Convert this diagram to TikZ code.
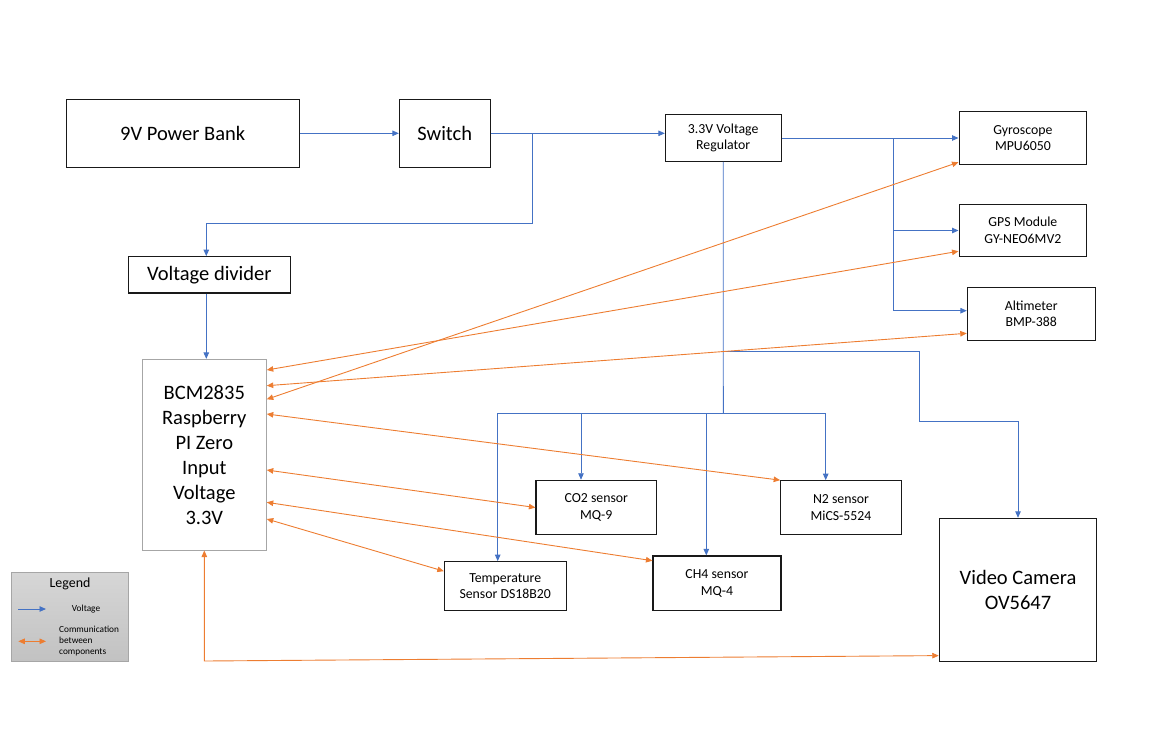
\documentclass[tikz,border=0pt]{standalone}
\usepackage{fontspec}
\setmainfont{Carlito}
\usepackage{tikz}
\usetikzlibrary{arrows.meta,positioning}

\definecolor{voltblue}{HTML}{4472C4}
\definecolor{commorange}{HTML}{ED7D31}

\begin{document}
\begin{tikzpicture}[x=1pt,y=-1pt,>={Triangle[length=6.5pt,width=5.5pt]}]
	\tikzstyle{block}=[draw=black!90,line width=1.1pt,fill=white,inner sep=0pt,align=center,font=\fontsize{13.8}{16.7}\selectfont]
	\tikzstyle{bigblock}=[block,font=\fontsize{20.5}{25}\selectfont]
	\tikzstyle{volt}=[->,draw=voltblue,line width=0.9pt]
	\tikzstyle{comm}=[<->,draw=commorange,line width=0.9pt]
	\useasboundingbox (0,0) rectangle (1153,748);
	
	% power chain
	\node[bigblock,minimum width=233.3pt,minimum height=68pt]  (bank) at (182.7,133.3) {9V Power Bank};
	\node[bigblock,minimum width=90.7pt,minimum height=68pt]   (switch) at (444.7,133.3) {Switch};
	\node[block,minimum width=115.7pt,minimum height=46.6pt]   (reg) at (723.2,138) {3.3V Voltage\\Regulator};
	\node[bigblock,minimum width=162pt,minimum height=36.3pt]  (divider) at (209.3,274.8) {Voltage divider};
	\node[bigblock,draw=black!35,line width=0.9pt,minimum width=124pt,minimum height=190.7pt] (bcm) at (204.3,454.7) {BCM2835\\Raspberry\\PI Zero\\Input\\Voltage\\3.3V};
	
	% right side modules
	\node[block,minimum width=127.7pt,minimum height=52.6pt] (gyro) at (1022.9,138) {Gyroscope\\MPU6050};
	\node[block,minimum width=127.7pt,minimum height=52.4pt] (gps) at (1022.9,230.5) {GPS Module\\GY-NEO6MV2};
	\node[block,minimum width=127.7pt,minimum height=52.7pt] (alti) at (1031.2,313.7) {Altimeter\\BMP-388};
	
	% sensors
	\node[block,minimum width=120.7pt,minimum height=54.4pt] (co2) at (596.3,507.5) {CO2 sensor\\MQ-9};
	\node[block,minimum width=120.6pt,minimum height=54pt]   (n2) at (841,507.7) {N2 sensor\\MiCS-5524};
	\node[block,minimum width=121.7pt,minimum height=49pt]   (temp) at (505.2,586.2) {Temperature\\Sensor DS18B20};
	\node[block,minimum width=128pt,minimum height=54.7pt]   (ch4) at (717,583.3) {CH4 sensor\\MQ-4};
	\node[bigblock,minimum width=157.4pt,minimum height=142.7pt] (cam) at (1018,589.7) {Video Camera\\OV5647};
	
	% voltage lines
	\coordinate (swsplit) at (532.3,133.3);
	\coordinate (regsplit) at (893.3,138.3);
	\coordinate (bus1) at (723.3,351.7);
	\coordinate (bus2) at (723.3,413.3);
	\coordinate (camdrop) at (919.3,421);
	\draw[volt] (bank) -- (switch);
	\draw[volt] (switch.east) -- (switch.east -| reg.west);
	\draw[volt] (swsplit) |- (206.3,223.3) -- ([xshift=-3pt]divider.north);
	\draw[volt] ([xshift=-3pt]divider.south) -- ([xshift=-3pt]divider.south |- bcm.north);
	\draw[volt] (reg.east) -- (gyro.west);
	\draw[volt] (regsplit) |- (gps.west);
	\draw[volt] (regsplit) |- ([yshift=3pt]alti.west);
	\draw[-,draw=voltblue,line width=0.9pt] (reg.south) -- (bus2);
	\draw[volt] (bus1) -| (camdrop) -| (cam.north);
	\draw[volt] (bus2) -| ([xshift=-7.5pt]temp.north);
	\draw[volt] (bus2) -| ([xshift=-15.3pt]co2.north);
	\draw[volt] (bus2) -| ([xshift=-10.7pt]ch4.north);
	\draw[volt] (bus2) -| ([xshift=-15.3pt]n2.north);
	
	% communication lines
	\coordinate (camturn) at (204.3,661);
	\draw[comm] (bcm.east |- 0,399.3) -- ([yshift=2.6pt]gyro.south west);
	\draw[comm] (bcm.east |- 0,370) -- ([yshift=6pt]gps.south west);
	\draw[comm] (bcm.east |- 0,385.7) -- ([yshift=7.3pt]alti.south west);
	\draw[comm] (bcm.east |- 0,414) -- (n2.north west);
	\draw[comm] (bcm.east |- 0,470) -- (co2.west);
	\draw[comm] (bcm.east |- 0,502.3) -- ([yshift=-5.3pt]ch4.north west);
	\draw[comm] (bcm.east |- 0,519) -- ([yshift=-10pt]temp.north west);
	\draw[comm] (bcm.south) -- (camturn) -- ([yshift=6pt]cam.south west);
	
	% legend
	\node[draw=black!35,line width=0.9pt,top color=black!16,bottom color=black!24,minimum width=117.4pt,minimum height=89pt,inner sep=0pt] (legend) at (70,616.8) {};
	\node[font=\fontsize{13.9}{16}\selectfont,inner sep=0pt] (legtitle) at (70,584) {Legend};
	\node[font=\fontsize{9.3}{10.8}\selectfont,inner sep=0pt] (legvolt) at (86,609) {Voltage};
	\node[font=\fontsize{9.3}{10.8}\selectfont,inner sep=0pt,anchor=west,align=left] (legcomm) at (59,641.3) {Communication\\between\\components};
	\coordinate (lv1) at (18.3,609);
	\coordinate (lv2) at (46,609);
	\coordinate (lc1) at (18.3,641.3);
	\coordinate (lc2) at (46,641.3);
	\draw[volt] (lv1) -- (lv2);
	\draw[comm] (lc1) -- (lc2);
\end{tikzpicture}
\end{document}
